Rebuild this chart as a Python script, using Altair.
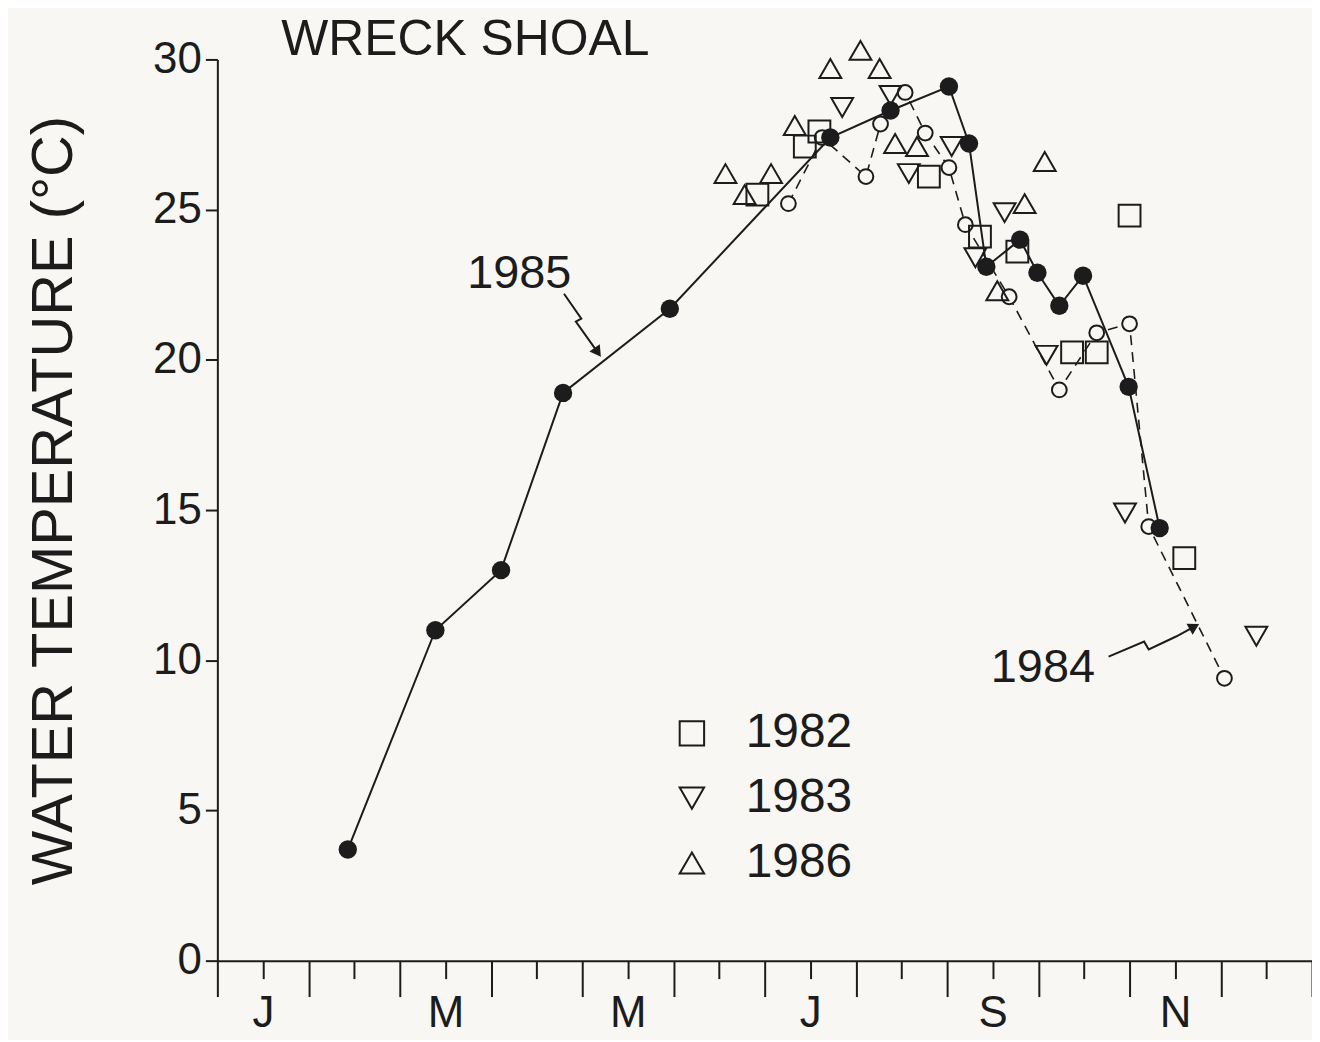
import altair as alt
import pandas as pd

# ---------------- data (x in months from 1 Jan, y in deg C) ----------------
m85 = [1.43, 2.39, 3.11, 3.79, 4.96, 6.72, 7.38, 8.02, 8.24, 8.43, 8.80, 8.99, 9.23, 9.49, 9.99, 10.33]
t85 = [3.7, 11.0, 13.0, 18.9, 21.7, 27.4, 28.3, 29.1, 27.2, 23.1, 24.0, 22.9, 21.8, 22.8, 19.1, 14.4]

m84 = [6.26, 6.63, 7.11, 7.27, 7.54, 7.76, 8.02, 8.20, 8.68, 9.23, 9.64, 10.00, 10.21, 11.04]
t84 = [25.2, 27.4, 26.1, 27.85, 28.9, 27.55, 26.4, 24.5, 22.1, 19.0, 20.9, 21.2, 14.45, 9.4]

m82 = [5.92, 6.44, 6.60, 7.80, 8.36, 8.77, 9.37, 9.64, 10.00, 10.60]
t82 = [25.5, 27.1, 27.6, 26.1, 24.1, 23.6, 20.25, 20.25, 24.8, 13.4]

m83 = [6.85, 7.38, 7.58, 8.05, 8.31, 8.63, 9.09, 9.95, 11.39]
t83 = [28.4, 28.8, 26.2, 27.1, 23.4, 24.9, 20.15, 14.9, 10.8]

m86 = [5.57, 6.07, 5.78, 6.33, 6.72, 7.05, 7.26, 7.43, 7.67, 8.55, 8.85, 9.07]
t86 = [26.2, 26.2, 25.5, 27.8, 29.7, 30.3, 29.7, 27.2, 27.1, 22.3, 25.2, 26.6]

legend_years = ["1982", "1983", "1986"]
legend_shapes = ["square", "triangle-down", "triangle-up"]

month_labels = ["J", "M", "M", "J", "S", "N"]
month_label_pos = [0.5, 2.5, 4.5, 6.5, 8.5, 10.5]
x_tick_vals = [i * 0.5 for i in range(25)]
y_tick_vals = [0, 5, 10, 15, 20, 25, 30]

title_text = ["WRECK SHOAL"]
title_pos = [(0.70, 30.15)]

note_text = ["1985", "1984"]
note_pos = [(3.31, 22.85), (9.05, 9.75)]

arrow85_m = [3.80, 3.99, 3.93, 4.17]
arrow85_t = [22.2, 21.37, 21.27, 20.25]
arrow84_m = [9.77, 10.16, 10.21, 10.51, 10.71]
arrow84_t = [10.12, 10.62, 10.36, 10.79, 11.12]
arrow_heads_m = [4.17, 10.71]
arrow_heads_t = [20.25, 11.12]
arrow_heads_angle = [145, 61]

# ---------------- styling ----------------
INK = "#1c1c1c"
BG = "#f8f7f3"
FONT = "Liberation Sans"

xscale = alt.Scale(domain=[0, 12], nice=False, zero=False)
yscale = alt.Scale(domain=[0, 30], nice=False, zero=True)

label_expr = " : ".join(
    [f"abs(datum.value - {p}) < 0.01 ? '{l}'" for p, l in zip(month_label_pos, month_labels)]
) + " : ''"

x_axis = alt.Axis(
    values=x_tick_vals,
    tickSize={"condition": {"test": "abs(datum.value - round(datum.value)) < 0.01", "value": 36}, "value": 18},
    labelExpr=label_expr,
    labelOverlap=False,
    labelFlush=False,
    labelBound=False,
    labelFont=FONT,
    labelFontSize=44,
    labelColor=INK,
    labelPadding=13,
    title=None,
    grid=False,
    domainColor=INK,
    domainWidth=2,
    tickColor=INK,
    tickWidth=2,
)
y_axis = alt.Axis(
    values=y_tick_vals,
    tickSize=12,
    tickColor=INK,
    tickWidth=2,
    domainColor=INK,
    domainWidth=2,
    labelFont=FONT,
    labelFontSize=44,
    labelColor=INK,
    labelPadding=4,
    grid=False,
    title="WATER TEMPERATURE (°C)",
    titleFont=FONT,
    titleFontSize=58,
    titleFontWeight="normal",
    titleColor=INK,
    titleX=-163,
    titleY=442,
    titleAngle=-90,
    titleAlign="center",
    titleBaseline="middle",
)

df85 = pd.DataFrame({"m": m85, "t": t85, "i": range(len(m85))})
df84 = pd.DataFrame({"m": m84, "t": t84, "i": range(len(m84))})
dfo = pd.concat([
    pd.DataFrame({"m": m82, "t": t82, "year": "1982"}),
    pd.DataFrame({"m": m83, "t": t83, "year": "1983"}),
    pd.DataFrame({"m": m86, "t": t86, "year": "1986"}),
])

X = alt.X("m:Q", scale=xscale, axis=x_axis)
Y = alt.Y("t:Q", scale=yscale, axis=y_axis)

line85 = alt.Chart(df85).mark_line(color=INK, strokeWidth=2).encode(x=X, y=Y, order="i:Q")
pts85 = alt.Chart(df85).mark_point(shape="circle", filled=True, color=INK, size=340, opacity=1).encode(x=X, y=Y)

line84 = alt.Chart(df84).mark_line(color=INK, strokeWidth=1.6, strokeDash=[10, 7]).encode(x=X, y=Y, order="i:Q")
pts84 = alt.Chart(df84).mark_point(shape="circle", filled=False, fill=BG, fillOpacity=1, stroke=INK,
                                   strokeWidth=2, size=220, opacity=1).encode(x=X, y=Y)

others = alt.Chart(dfo).mark_point(filled=False, stroke=INK, strokeWidth=2, size=480, opacity=1).encode(
    x=X, y=Y,
    shape=alt.Shape(
        "year:N",
        scale=alt.Scale(domain=legend_years, range=legend_shapes),
        legend=alt.Legend(
            title=None,
            orient="none",
            legendX=452,
            legendY=652,
            labelFont=FONT,
            labelFontSize=48,
            labelColor=INK,
            labelOffset=30,
            rowPadding=17,
            symbolSize=600,
            symbolStrokeWidth=2,
            symbolStrokeColor=INK,
            symbolFillColor="transparent",
            padding=0,
        ),
    ),
)

dft = pd.DataFrame({"m": [p[0] for p in title_pos], "t": [p[1] for p in title_pos], "txt": title_text})
title = alt.Chart(dft).mark_text(align="left", baseline="alphabetic", font=FONT, fontSize=50,
                                 color=INK).encode(x=X, y=Y, text="txt:N")

dfn = pd.DataFrame({"m": [p[0] for p in note_pos], "t": [p[1] for p in note_pos], "txt": note_text})
notes = alt.Chart(dfn).mark_text(align="center", baseline="middle", font=FONT, fontSize=47,
                                 color=INK).encode(x=X, y=Y, text="txt:N")

dfa = pd.concat([
    pd.DataFrame({"m": arrow85_m, "t": arrow85_t, "g": "a85", "i": range(len(arrow85_m))}),
    pd.DataFrame({"m": arrow84_m, "t": arrow84_t, "g": "a84", "i": range(len(arrow84_m))}),
])
arrows = alt.Chart(dfa).mark_line(color=INK, strokeWidth=2).encode(
    x=X, y=Y, detail="g:N", order="i:Q")
dfh = pd.DataFrame({"m": arrow_heads_m, "t": arrow_heads_t, "ang": arrow_heads_angle})
heads = alt.Chart(dfh).mark_point(shape="triangle-up", filled=True, color=INK, size=160, opacity=1).encode(
    x=X, y=Y, angle=alt.Angle("ang:Q", scale=None))

chart = alt.layer(
    line85, line84, arrows, heads, pts84, pts85, others, title, notes
).resolve_scale(shape="independent").properties(
    width=1098,
    height=904,
    autosize="none",
    padding={"left": 210, "top": 50, "right": 0, "bottom": 78},
).configure(background=BG).configure_view(stroke=None)

chart.save("out.html", embed_options={"renderer": "svg", "actions": False})
